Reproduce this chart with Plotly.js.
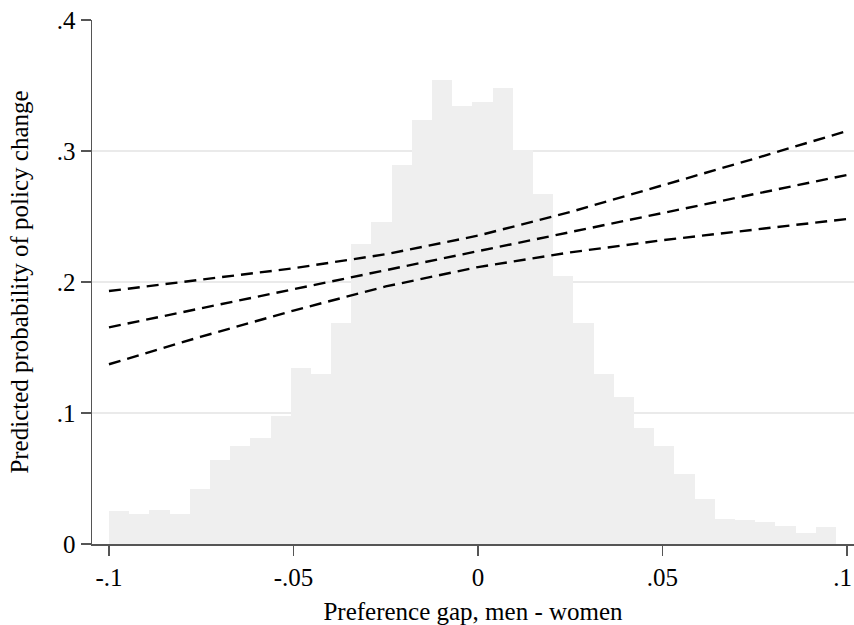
<!DOCTYPE html>
<html>
<head>
<meta charset="utf-8">
<script src="https://cdn.plot.ly/plotly-3.0.1.min.js"></script>
<style>
  html, body { margin: 0; padding: 0; background: #ffffff; }
  #chart { width: 854px; height: 625px; }
</style>
</head>
<body>
<div id="chart"></div>
<script>
// Histogram of preference gap (36 bins starting at -0.1)
const binStart = -0.1;
const binWidth = 0.005472;
const histHeights = [
  0.0252, 0.0229, 0.0260, 0.0229, 0.0420, 0.0640, 0.0748, 0.0810, 0.0977,
  0.1340, 0.1300, 0.1690, 0.2290, 0.2455, 0.2890, 0.3240, 0.3540, 0.3346,
  0.3374, 0.3480, 0.3008, 0.2670, 0.2047, 0.1687, 0.1298, 0.1122, 0.0885,
  0.0748, 0.0534, 0.0346, 0.0191, 0.0183, 0.0168, 0.0137, 0.0084, 0.0130
];

// Predicted probability and 95% CI
const gapValues = [-0.1, -0.075, -0.05, -0.025, 0, 0.025, 0.05, 0.075, 0.1];
const predicted = [0.1654, 0.1800, 0.1943, 0.2089, 0.2234, 0.2380, 0.2527, 0.2672, 0.2817];
const upperCI   = [0.1931, 0.2017, 0.2105, 0.2212, 0.2354, 0.2534, 0.2735, 0.2942, 0.3153];
const lowerCI   = [0.1372, 0.1583, 0.1782, 0.1966, 0.2114, 0.2226, 0.2319, 0.2402, 0.2481];

const xTickVals = [-0.1, -0.05, 0, 0.05, 0.1];
const xTickText = ['-.1', '-.05', '0', '.05', '.1'];
const yTickVals = [0, 0.1, 0.2, 0.3, 0.4];
const yTickText = ['0', '.1', '.2', '.3', '.4'];

const binCenters = histHeights.map((_, i) => binStart + (i + 0.5) * binWidth);

const dashStyle = { color: '#000000', width: 2.4, dash: '12px,7px' };

const traces = [
  {
    type: 'bar',
    x: binCenters,
    y: histHeights,
    width: binWidth,
    marker: { color: '#efefef', line: { width: 0 } },
    hoverinfo: 'skip'
  },
  { type: 'scatter', mode: 'lines', x: gapValues, y: upperCI, line: dashStyle },
  { type: 'scatter', mode: 'lines', x: gapValues, y: predicted, line: dashStyle },
  { type: 'scatter', mode: 'lines', x: gapValues, y: lowerCI, line: dashStyle }
];

const font = { family: '"Liberation Serif", "Times New Roman", serif', size: 25, color: '#000000' };

const layout = {
  width: 854,
  height: 625,
  margin: { l: 92, r: 0, t: 20, b: 81 },
  paper_bgcolor: '#ffffff',
  plot_bgcolor: '#ffffff',
  showlegend: false,
  bargap: 0,
  font: font,
  xaxis: {
    range: [-0.1046, 0.1019],
    tickvals: xTickVals,
    ticktext: xTickText,
    ticks: 'outside',
    ticklen: 10,
    tickwidth: 1.5,
    tickcolor: '#555555',
    ticklabeloverflow: 'allow',
    showline: true,
    linecolor: '#555555',
    linewidth: 1.5,
    showgrid: false,
    zeroline: false,
    tickfont: font,
    title: { text: 'Preference gap, men - women', font: font, standoff: 13 }
  },
  yaxis: {
    range: [0, 0.4],
    tickvals: yTickVals,
    ticktext: yTickText,
    ticks: 'outside',
    ticklen: 10,
    tickwidth: 1.5,
    tickcolor: '#555555',
    showline: true,
    linecolor: '#555555',
    linewidth: 1.5,
    showgrid: true,
    gridcolor: '#eaeaea',
    gridwidth: 1.5,
    zeroline: false,
    tickfont: font,
    title: { text: 'Predicted probability of policy change', font: font, standoff: 21 }
  }
};

Plotly.newPlot('chart', traces, layout, { displayModeBar: false, staticPlot: true }).then(function (gd) {
  // keep the last x tick label inside the picture, as in the reference
  gd.querySelectorAll('.xtick text').forEach(function (t) {
    if (t.textContent === '.1') {
      t.setAttribute('text-anchor', 'end');
      var x = parseFloat(t.getAttribute('x') || '0');
      t.setAttribute('x', String(x + 5));
    }
  });
});
</script>
</body>
</html>
